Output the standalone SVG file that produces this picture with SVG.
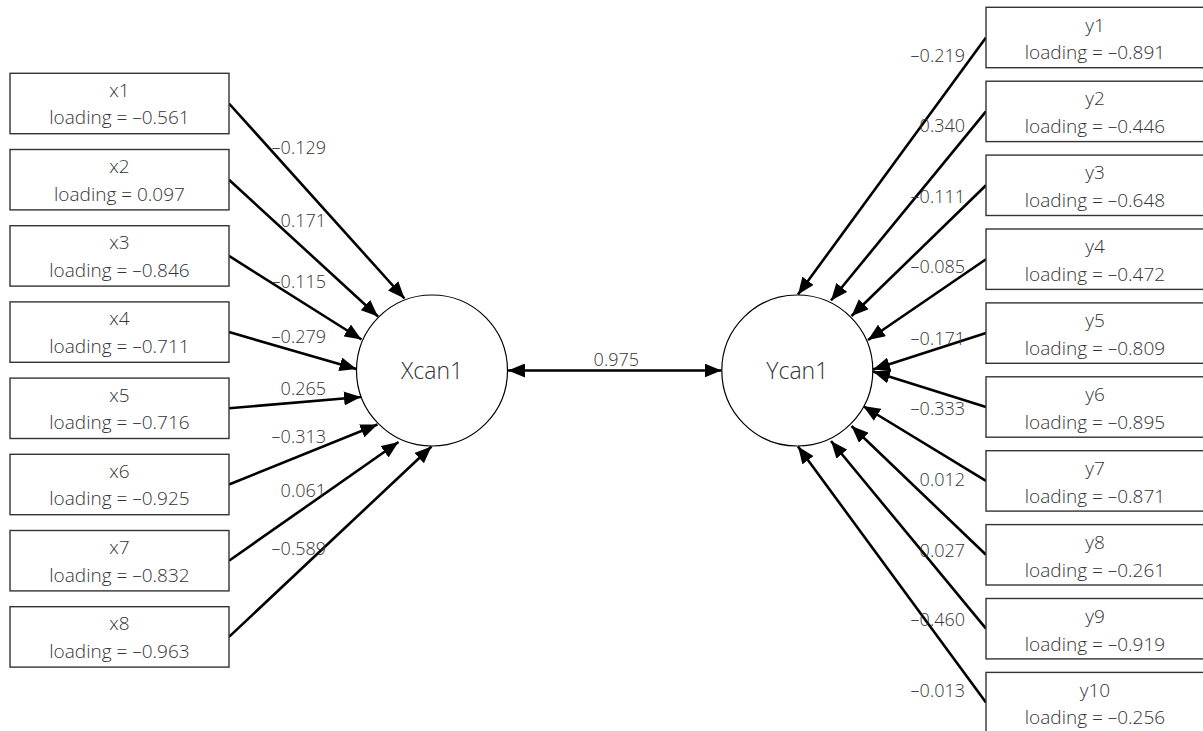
<svg xmlns="http://www.w3.org/2000/svg" width="1203" height="731" viewBox="0 0 1203 731">
<defs>
<marker id="ah" markerUnits="userSpaceOnUse" markerWidth="17" markerHeight="14" refX="17" refY="7" orient="auto-start-reverse" viewBox="0 0 17 14">
<path d="M0,0 L17,7 L0,14 z" fill="#000"/>
</marker>
<style>
.box{fill:#fff;stroke:#333;stroke-width:1.4}
.lat{fill:#fff;stroke:#000;stroke-width:1.2}
.t{font-family:"Open Sans","Liberation Sans",sans-serif;font-weight:300;font-size:19px;fill:#333;text-anchor:middle}
.lt{font-family:"Open Sans","Liberation Sans",sans-serif;font-weight:300;font-size:23px;fill:#333;text-anchor:middle}
.lbl{font-family:"Open Sans","Liberation Sans",sans-serif;font-weight:300;font-size:18px;fill:#333;text-anchor:end}
.c{stroke:#000;stroke-width:2.6;fill:none;marker-end:url(#ah)}
</style>
</defs>
<rect width="1203" height="731" fill="#fff"/>
<g id="connectors">
<line class="c" x1="229" y1="103.5" x2="404.5" y2="298.5"/>
<line class="c" x1="229" y1="179.7" x2="378" y2="316.5"/>
<line class="c" x1="229" y1="255.9" x2="361.5" y2="339.5"/>
<line class="c" x1="229" y1="332.1" x2="356.5" y2="369"/>
<line class="c" x1="229" y1="408.3" x2="361" y2="397"/>
<line class="c" x1="229" y1="484.5" x2="377.5" y2="424.5"/>
<line class="c" x1="229" y1="560.7" x2="398.5" y2="442"/>
<line class="c" x1="229" y1="636.9" x2="431.5" y2="446.5"/>
<line class="c" x1="986" y1="37.5" x2="798" y2="294.5"/>
<line class="c" x1="986" y1="111.4" x2="831" y2="300.5"/>
<line class="c" x1="986" y1="185.3" x2="851.5" y2="316"/>
<line class="c" x1="986" y1="259.2" x2="868" y2="340"/>
<line class="c" x1="986" y1="333.1" x2="873" y2="369.5"/>
<line class="c" x1="986" y1="407" x2="873" y2="371.5"/>
<line class="c" x1="986" y1="480.9" x2="863" y2="406"/>
<line class="c" x1="986" y1="554.8" x2="851.5" y2="426"/>
<line class="c" x1="986" y1="628.7" x2="831" y2="441"/>
<line class="c" x1="986" y1="702.6" x2="798" y2="446.5"/>
<line class="c" x1="508" y1="370.5" x2="721.5" y2="370.5" style="marker-start:url(#ah)"/>
<text class="lbl" x="326" y="154">–0.129</text>
<text class="lbl" x="326" y="227">0.171</text>
<text class="lbl" x="326" y="288">–0.115</text>
<text class="lbl" x="326" y="343">–0.279</text>
<text class="lbl" x="326" y="395">0.265</text>
<text class="lbl" x="326" y="443">–0.313</text>
<text class="lbl" x="326" y="497">0.061</text>
<text class="lbl" x="326" y="555">–0.589</text>
<text class="lbl" x="965" y="62">–0.219</text>
<text class="lbl" x="965" y="132">0.340</text>
<text class="lbl" x="965" y="203">–0.111</text>
<text class="lbl" x="965" y="273">–0.085</text>
<text class="lbl" x="965" y="345">–0.171</text>
<text class="lbl" x="965" y="415">–0.333</text>
<text class="lbl" x="965" y="486">0.012</text>
<text class="lbl" x="965" y="557">0.027</text>
<text class="lbl" x="965" y="626">–0.460</text>
<text class="lbl" x="965" y="697">–0.013</text>
<text class="lbl" x="639" y="366">0.975</text>
</g>
<g id="Xcan1"><circle class="lat" cx="432" cy="370.5" r="75.5"/><text class="lt" x="432" y="379">Xcan1</text></g>
<g id="Ycan1"><circle class="lat" cx="797.3" cy="370.5" r="75.5"/><text class="lt" x="797.3" y="379">Ycan1</text></g>
<g id="x1"><rect class="box" x="10" y="73.3" width="219" height="60.4"/><text class="t" x="119.5" y="96.7">x1</text><text class="t" x="119.5" y="124.3">loading = –0.561</text></g>
<g id="x2"><rect class="box" x="10" y="149.5" width="219" height="60.4"/><text class="t" x="119.5" y="172.9">x2</text><text class="t" x="119.5" y="200.5">loading = 0.097</text></g>
<g id="x3"><rect class="box" x="10" y="225.7" width="219" height="60.4"/><text class="t" x="119.5" y="249.1">x3</text><text class="t" x="119.5" y="276.7">loading = –0.846</text></g>
<g id="x4"><rect class="box" x="10" y="301.9" width="219" height="60.4"/><text class="t" x="119.5" y="325.3">x4</text><text class="t" x="119.5" y="352.9">loading = –0.711</text></g>
<g id="x5"><rect class="box" x="10" y="378.1" width="219" height="60.4"/><text class="t" x="119.5" y="401.5">x5</text><text class="t" x="119.5" y="429.1">loading = –0.716</text></g>
<g id="x6"><rect class="box" x="10" y="454.3" width="219" height="60.4"/><text class="t" x="119.5" y="477.7">x6</text><text class="t" x="119.5" y="505.3">loading = –0.925</text></g>
<g id="x7"><rect class="box" x="10" y="530.5" width="219" height="60.4"/><text class="t" x="119.5" y="553.9">x7</text><text class="t" x="119.5" y="581.5">loading = –0.832</text></g>
<g id="x8"><rect class="box" x="10" y="606.7" width="219" height="60.4"/><text class="t" x="119.5" y="630.1">x8</text><text class="t" x="119.5" y="657.7">loading = –0.963</text></g>
<g id="y1"><rect class="box" x="986" y="7.3" width="219" height="60.4"/><text class="t" x="1095" y="31.5">y1</text><text class="t" x="1095" y="59.3">loading = –0.891</text></g>
<g id="y2"><rect class="box" x="986" y="81.2" width="219" height="60.4"/><text class="t" x="1095" y="105.4">y2</text><text class="t" x="1095" y="133.2">loading = –0.446</text></g>
<g id="y3"><rect class="box" x="986" y="155.1" width="219" height="60.4"/><text class="t" x="1095" y="179.3">y3</text><text class="t" x="1095" y="207.1">loading = –0.648</text></g>
<g id="y4"><rect class="box" x="986" y="229" width="219" height="60.4"/><text class="t" x="1095" y="253.2">y4</text><text class="t" x="1095" y="281">loading = –0.472</text></g>
<g id="y5"><rect class="box" x="986" y="302.9" width="219" height="60.4"/><text class="t" x="1095" y="327.1">y5</text><text class="t" x="1095" y="354.9">loading = –0.809</text></g>
<g id="y6"><rect class="box" x="986" y="376.8" width="219" height="60.4"/><text class="t" x="1095" y="401">y6</text><text class="t" x="1095" y="428.8">loading = –0.895</text></g>
<g id="y7"><rect class="box" x="986" y="450.7" width="219" height="60.4"/><text class="t" x="1095" y="474.9">y7</text><text class="t" x="1095" y="502.7">loading = –0.871</text></g>
<g id="y8"><rect class="box" x="986" y="524.6" width="219" height="60.4"/><text class="t" x="1095" y="548.8">y8</text><text class="t" x="1095" y="576.6">loading = –0.261</text></g>
<g id="y9"><rect class="box" x="986" y="598.5" width="219" height="60.4"/><text class="t" x="1095" y="622.7">y9</text><text class="t" x="1095" y="650.5">loading = –0.919</text></g>
<g id="y10"><rect class="box" x="986" y="672.4" width="219" height="60.4"/><text class="t" x="1095" y="696.6">y10</text><text class="t" x="1095" y="724.4">loading = –0.256</text></g>
</svg>
